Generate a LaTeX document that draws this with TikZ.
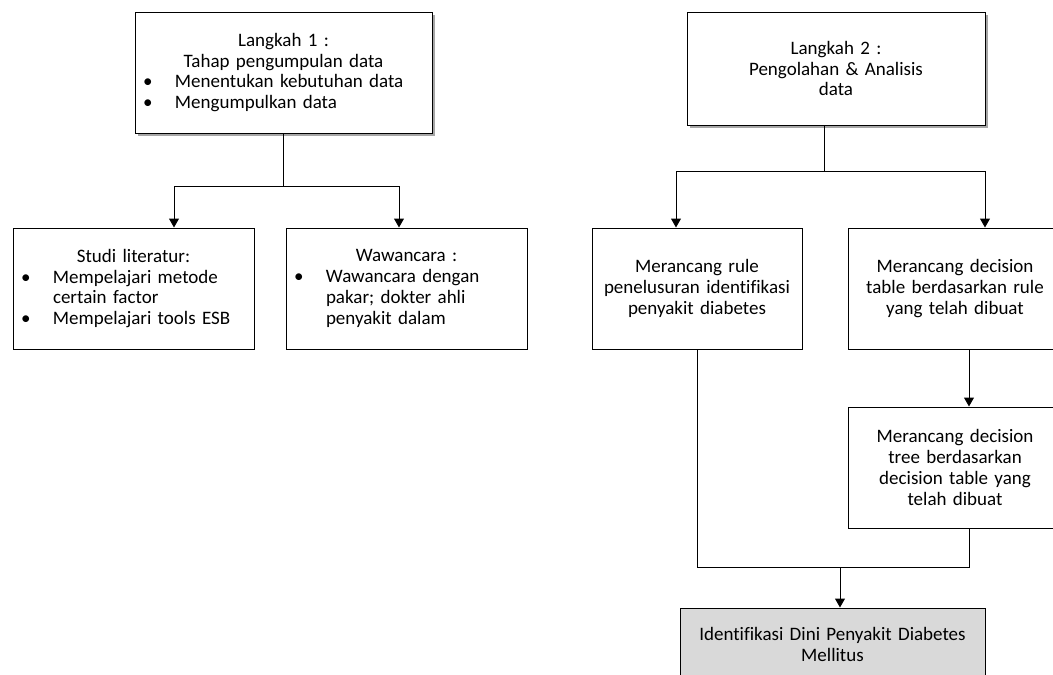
\documentclass[tikz,border=0pt]{standalone}
\usepackage{fontspec}
\setmainfont{Carlito}[Ligatures=NoCommon]
\usetikzlibrary{shapes,arrows.meta,shadows}
\newcommand{\pitem}[1]{\makebox[\linewidth][l]{\hspace*{8pt}\makebox[32pt][l]{\textbullet}#1}}
\newcommand{\pcont}[1]{\makebox[\linewidth][l]{\hspace*{40pt}#1}}

\begin{document}
\begin{tikzpicture}[x=1pt, y=-1pt,
    box/.style={draw, line width=1pt, inner sep=0pt, align=center, font=\fontsize{19}{20.8}\selectfont},
    stepbox/.style={box, fill=white, drop shadow={shadow xshift=3pt, shadow yshift=-3pt, fill=black, opacity=0.35}},
    link/.style={line width=1pt},
    arrow/.style={link, -{Triangle[width=10pt,length=9pt]}}]
    \useasboundingbox (0,0) rectangle (1053,675);
    \clip (0,0) rectangle (1053,675);
    % langkah 1
    \node[stepbox, minimum width=297, minimum height=121, text width=297] (step1) at (283.5,72.5) {Langkah 1 :\\ Tahap pengumpulan data\\ \pitem{Menentukan kebutuhan data}\\ \pitem{Mengumpulkan data}};
    \node[box, minimum width=241, minimum height=121, text width=241] (studi) at (133.5,288.5) {Studi literatur:\\ \pitem{Mempelajari metode}\\ \pcont{certain factor}\\ \pitem{Mempelajari tools ESB}};
    \node[box, minimum width=241, minimum height=121, text width=241] (wawan) at (406.5,288.5) {Wawancara :\\ \pitem{Wawancara dengan}\\ \pcont{pakar; dokter ahli}\\ \pcont{penyakit dalam}};
    % langkah 2
    \node[stepbox, minimum width=298, minimum height=113, text width=298] (step2) at (836,68.5) {Langkah 2 :\\ Pengolahan \& Analisis\\ data};
    \node[box, minimum width=210, minimum height=121, text width=210] (rule) at (697,288.5) {Merancang rule\\ penelusuran identifikasi\\ penyakit diabetes};
    \node[box, minimum width=214, minimum height=121, text width=214] (table) at (955,288.5) {Merancang decision\\ table berdasarkan rule\\ yang telah dibuat};
    \node[box, minimum width=214, minimum height=121, text width=214] (tree) at (955,467.5) {Merancang decision\\ tree berdasarkan\\ decision table yang\\ telah dibuat};
    \node[box, fill=black!15, minimum width=305, minimum height=73, text width=305] (ident) at (832.5,644.5) {Identifikasi Dini Penyakit Diabetes\\ Mellitus};

    \draw[link] (step1.south) -- ++(0,53) coordinate (fork1);
    \draw[arrow] (fork1) -| ([xshift=40.5pt]studi.north);
    \draw[arrow] (fork1) -| ([xshift=-7.5pt]wawan.north);
    \draw[link] ([xshift=-12pt]step2.south) -- ++(0,46) coordinate (fork2);
    \draw[arrow] (fork2) -| ([xshift=-21pt]rule.north);
    \draw[arrow] (fork2) -| ([xshift=30pt]table.north);
    \draw[arrow] ([xshift=14pt]table.south) -- ([xshift=14pt]tree.north);
    \coordinate (merge) at (840,567);
    \draw[link] (rule.south) |- (merge);
    \draw[link] ([xshift=14pt]tree.south) |- (merge);
    \draw[arrow] (merge) -- ([xshift=7.5pt]ident.north);
\end{tikzpicture}
\end{document}
